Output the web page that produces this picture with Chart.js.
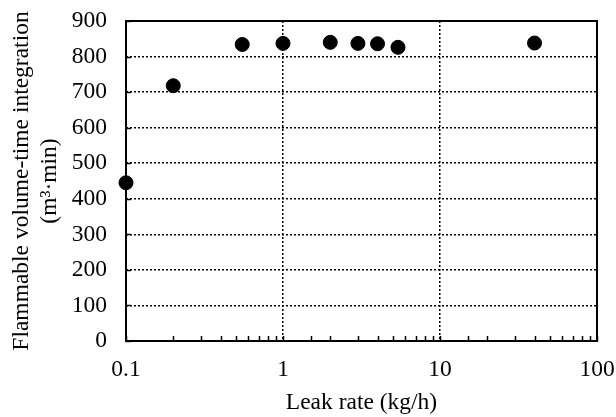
<!DOCTYPE html>
<html>
<head>
<meta charset="utf-8">
<script src="https://cdn.jsdelivr.net/npm/chart.js@4/dist/chart.umd.min.js"></script>
<style>
  html, body { margin: 0; padding: 0; background: #fff; }
  #wrap { width: 616px; height: 417px; }
</style>
</head>
<body>
<div id="wrap"><canvas id="leak-chart"></canvas></div>
<script>
// leak rate (kg/h) vs flammable volume-time integration (m3.min)
var leakRates = [0.1, 0.2, 0.55, 1, 2, 3, 4, 5.4, 40];
var integrals = [445, 718, 834, 837, 840, 837, 836, 826, 838];
var yTicks = [0, 100, 200, 300, 400, 500, 600, 700, 800, 900];

var serif = "'Liberation Serif', 'Times New Roman', serif";

function isDecade(v) {
	var l = Math.log10(v);
	return Math.abs(l - Math.round(l)) < 1e-9;
}

// short inside tick marks + solid frame
var frame = {
	id: 'frame',
	afterDraw: function (chart) {
		var ctx = chart.ctx, a = chart.chartArea;
		var xs = chart.scales.x, ys = chart.scales.y;
		ctx.save();
		ctx.strokeStyle = '#000';
		ctx.lineWidth = 1.5;
		ctx.beginPath();
		xs.ticks.forEach(function (t) {
			var px = Math.round(xs.getPixelForValue(t.value)) + 0.5;
			ctx.moveTo(px, a.bottom);
			ctx.lineTo(px, a.bottom - 5);
		});
		ys.ticks.forEach(function (t) {
			var py = Math.round(ys.getPixelForValue(t.value)) + 0.5;
			ctx.moveTo(a.left, py);
			ctx.lineTo(a.left + 5, py);
		});
		ctx.stroke();
		ctx.lineWidth = 2;
		ctx.strokeRect(a.left, a.top, a.right - a.left, a.bottom - a.top);
		ctx.restore();
	}
};

new Chart(document.getElementById('leak-chart'), {
	type: 'scatter',
	data: {
		datasets: [{
			label: 'Flammable volume-time integration',
			data: leakRates.map(function (x, i) { return { x: x, y: integrals[i] }; }),
			backgroundColor: '#000',
			borderColor: '#000',
			pointRadius: 7,
			pointHoverRadius: 7
		}]
	},
	options: {
		responsive: true,
		maintainAspectRatio: false,
		animation: false,
		clip: false,
		layout: { padding: { left: 0, right: 19, top: 21, bottom: 0 } },
		plugins: {
			legend: { display: false },
			tooltip: { enabled: false }
		},
		scales: {
			x: {
				type: 'logarithmic',
				min: 0.1,
				max: 100,
				afterFit: function (s) {
					s.height = 76;
					s.paddingLeft = 0;
					s.paddingRight = 0;
				},
				border: { display: false, dash: [2, 2] },
				grid: {
					drawTicks: false,
					color: function (c) {
						return c.tick && isDecade(c.tick.value) ? '#000' : 'rgba(0,0,0,0)';
					},
					lineWidth: 1.5
				},
				ticks: {
					autoSkip: false,
					maxRotation: 0,
					padding: 15,
					color: '#000',
					font: { family: serif, size: 23.5 },
					callback: function (v) { return isDecade(v) ? String(v) : ''; }
				},
				title: {
					display: true,
					text: 'Leak rate (kg/h)',
					color: '#000',
					font: { family: serif, size: 23.5 },
					padding: { top: 4, bottom: 0 }
				}
			},
			y: {
				min: 0,
				max: 900,
				afterFit: function (s) {
					s.width = 126;
					s.paddingTop = 0;
					s.paddingBottom = 0;
				},
				afterBuildTicks: function (s) {
					s.ticks = yTicks.map(function (v) { return { value: v }; });
				},
				border: { display: false, dash: [2, 2] },
				grid: { drawTicks: false, color: '#000', lineWidth: 1.5 },
				ticks: {
					padding: 19,
					color: '#000',
					font: { family: serif, size: 23.5 }
				},
				title: {
					display: true,
					text: ['Flammable volume-time integration', '(m\u00b3\u00b7min)'],
					color: '#000',
					font: { family: serif, size: 23.5, lineHeight: 1.2 },
					padding: { top: 8, bottom: 0 }
				}
			}
		}
	},
	plugins: [frame]
});
</script>
</body>
</html>
